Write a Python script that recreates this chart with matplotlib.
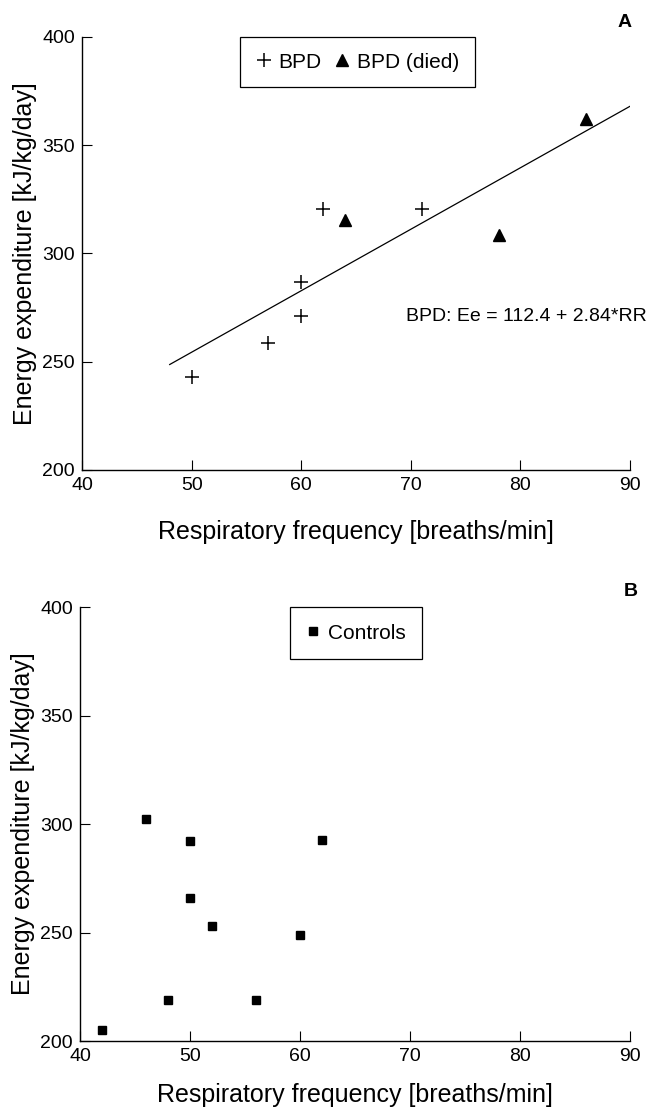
import matplotlib
matplotlib.use("Agg")
import matplotlib.pyplot as plt
import numpy as np

plt.rcParams['font.family'] = ['Liberation Sans', 'DejaVu Sans']

# panel A - BPD infants
bpd_rr = [50, 57, 60, 60, 62, 71]
bpd_ee = [243, 258.5, 271, 287, 320.5, 320.5]
died_rr = [64, 78, 86]
died_ee = [315.5, 308.5, 362]
fit_a, fit_b = 112.4, 2.84
fit_range = [48, 90]

# panel B - controls
ctrl_rr = [42, 46, 48, 50, 50, 52, 56, 60, 62]
ctrl_ee = [205, 302.5, 218.7, 292.3, 266, 253, 219, 249, 292.8]

xticks = [40, 50, 60, 70, 80, 90]
yticks = [200, 250, 300, 350, 400]
xlab = 'Respiratory frequency [breaths/min]'
ylab = 'Energy expenditure [kJ/kg/day]'

fig = plt.figure(figsize=(6.52, 11.14), dpi=100)
axA = fig.add_axes([0.1258, 0.5781, 0.8405, 0.3887])
axB = fig.add_axes([0.1227, 0.0655, 0.8436, 0.3896])


def style(ax, xpad):
    ax.set_xlim(40, 90)
    ax.set_ylim(200, 400)
    ax.set_xticks(xticks)
    ax.set_yticks(yticks)
    for s in ['top', 'right']:
        ax.spines[s].set_visible(False)
    for s in ['left', 'bottom']:
        ax.spines[s].set_linewidth(1.0)
    ax.tick_params(direction='in', length=7, width=0.8, labelsize=14, pad=5)
    ax.set_xlabel(xlab, fontsize=18, labelpad=xpad)
    ax.set_ylabel(ylab, fontsize=18, labelpad=4)


style(axA, 19)
h1, = axA.plot(bpd_rr, bpd_ee, '+', color='black', markersize=10, mew=1.1, clip_on=False)
h2, = axA.plot(died_rr, died_ee, '^', color='black', markersize=8, clip_on=False)
xx = np.array(fit_range)
axA.plot(xx, fit_a + fit_b * xx, color='black', lw=0.9)
axA.text(69.6, 271, 'BPD: Ee = 112.4 + 2.84*RR', fontsize=14, va='center', ha='left')
legA = axA.legend([h1, h2], ['BPD', 'BPD (died)'], loc='upper left',
                  bbox_to_anchor=(0.288, 1.0), borderaxespad=0, ncol=2,
                  fontsize=15, handlelength=0.8, handletextpad=0.3,
                  columnspacing=0.6, borderpad=0.75, fancybox=False,
                  edgecolor='black', framealpha=1)
legA.get_frame().set_linewidth(0.9)
fig.text(0.958, 0.980, 'A', fontsize=14, fontweight='bold', ha='center', va='center')

style(axB, 13)
h3, = axB.plot(ctrl_rr, ctrl_ee, 's', color='black', markersize=6, clip_on=False)
legB = axB.legend([h3], ['Controls'], loc='upper left',
                  bbox_to_anchor=(0.382, 1.0), borderaxespad=0,
                  fontsize=15, handlelength=0.6, handletextpad=0.4,
                  borderpad=0.8, fancybox=False, edgecolor='black', framealpha=1)
legB.get_frame().set_linewidth(0.9)
fig.text(0.968, 0.469, 'B', fontsize=14, fontweight='bold', ha='center', va='center')

fig.savefig('out.png', dpi=100)
